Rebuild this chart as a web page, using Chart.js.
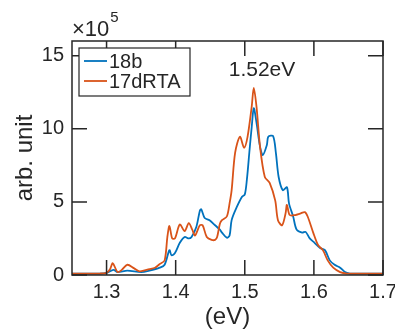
<!DOCTYPE html>
<html>
<head>
<meta charset="utf-8">
<script src="https://cdn.jsdelivr.net/npm/chart.js@4.4.0/dist/chart.umd.min.js"></script>
<style>
  html, body { margin: 0; padding: 0; background: #fff; }
  #wrap { width: 395px; height: 329px; position: relative; }
</style>
</head>
<body>
<div id="wrap"><canvas id="pl"></canvas></div>
<script>
  // photon energy (eV) and intensity (x1e5, arb. unit)
  const seriesNames = ["18b", "17dRTA"];

  const eV_18b = [1.25, 1.29, 1.30, 1.31, 1.316, 1.33, 1.35, 1.362, 1.377, 1.384, 1.391, 1.394,
    1.399, 1.406, 1.413, 1.419, 1.423, 1.430, 1.435, 1.437, 1.442, 1.449, 1.457, 1.464, 1.467,
    1.474, 1.478, 1.481, 1.488, 1.496, 1.500, 1.503, 1.507, 1.510, 1.513, 1.517, 1.522, 1.526,
    1.532, 1.534, 1.541, 1.545, 1.549, 1.555, 1.561, 1.564, 1.570, 1.575, 1.583, 1.588, 1.594,
    1.601, 1.609, 1.616, 1.623, 1.630, 1.638, 1.645, 1.652, 1.66, 1.70];
  const int_18b = [0.1, 0.1, 0.15, 0.35, 0.2, 0.3, 0.2, 0.3, 0.5, 0.7, 1.7, 1.35,
    1.5, 2.2, 2.6, 2.5, 2.6, 3.3, 4.4, 4.5, 3.9, 3.75, 3.4, 3.1, 2.9,
    2.55, 2.7, 3.75, 4.6, 5.35, 5.5, 6.5, 8.6, 10.1, 11.4, 10.4, 8.8, 8.2,
    8.9, 9.45, 9.5, 8.35, 6.7, 5.8, 6.0, 4.9, 4.0, 3.1, 2.9, 2.95, 2.5,
    2.2, 1.85, 1.7, 1.0, 0.7, 0.5, 0.2, 0.1, 0.1, 0.1];

  const eV_17d = [1.25, 1.29, 1.30, 1.305, 1.309, 1.316, 1.322, 1.330, 1.340, 1.348, 1.362,
    1.370, 1.377, 1.384, 1.388, 1.391, 1.395, 1.399, 1.406, 1.413, 1.419, 1.424, 1.428, 1.435,
    1.439, 1.445, 1.452, 1.457, 1.460, 1.464, 1.467, 1.474, 1.478, 1.481, 1.486, 1.493, 1.499,
    1.504, 1.510, 1.513, 1.517, 1.522, 1.529, 1.536, 1.544, 1.548, 1.554, 1.559, 1.561, 1.565,
    1.573, 1.580, 1.587, 1.591, 1.599, 1.606, 1.613, 1.620, 1.628, 1.638, 1.648, 1.66, 1.70];
  const int_17d = [0.1, 0.1, 0.15, 0.4, 0.8, 0.2, 0.35, 0.7, 0.45, 0.25, 0.4,
    0.5, 0.75, 1.0, 2.6, 3.35, 2.5, 2.5, 3.45, 3.0, 3.55, 3.1, 2.7, 3.4,
    3.4, 2.6, 2.4, 2.4, 2.6, 3.5, 3.75, 4.0, 4.9, 5.8, 8.35, 9.45, 8.7,
    9.45, 11.5, 12.8, 11.5, 8.8, 6.7, 6.3, 5.1, 3.75, 3.4, 4.2, 4.8, 4.1,
    4.1, 4.2, 4.3, 4.0, 2.9, 2.05, 1.7, 1.0, 0.5, 0.2, 0.1, 0.1, 0.1];

  const xTicks = [1.3, 1.4, 1.5, 1.6, 1.7];
  const yTicks = [0, 5, 10, 15];
  const peakLabel = "1.52eV";

  const INK = "#262626";
  const FONT = "'Liberation Sans', Arial, sans-serif";

  function pts(xs, ys) {
    return xs.map((x, i) => ({ x: x, y: ys[i] }));
  }

  // box, inward ticks, legend and annotations
  const frame = {
    id: "frame",
    afterDatasetsDraw(chart) {
      const { ctx, chartArea: a, scales } = chart;
      const TL = 15;
      ctx.save();
      ctx.strokeStyle = INK;
      ctx.lineWidth = 1.5;
      ctx.strokeRect(a.left, a.top, a.right - a.left, a.bottom - a.top);
      ctx.beginPath();
      xTicks.forEach((v) => {
        const px = scales.x.getPixelForValue(v);
        ctx.moveTo(px, a.bottom); ctx.lineTo(px, a.bottom - TL);
        ctx.moveTo(px, a.top); ctx.lineTo(px, a.top + TL);
      });
      yTicks.forEach((v) => {
        const py = scales.y.getPixelForValue(v);
        ctx.moveTo(a.left, py); ctx.lineTo(a.left + TL, py);
        ctx.moveTo(a.right, py); ctx.lineTo(a.right - TL, py);
      });
      ctx.stroke();

      // legend
      const lx = 79, ly = 48, lw = 111, lh = 48;
      ctx.fillStyle = "#fff";
      ctx.fillRect(lx, ly, lw, lh);
      ctx.lineWidth = 1.2;
      ctx.strokeRect(lx, ly, lw, lh);
      [0, 1].forEach((r) => {
        const ds = chart.data.datasets[r];
        const yy = 61 + r * 20;
        ctx.strokeStyle = ds.borderColor;
        ctx.lineWidth = 1.8;
        ctx.beginPath();
        ctx.moveTo(84, yy); ctx.lineTo(107, yy);
        ctx.stroke();
        ctx.fillStyle = INK;
        ctx.font = "20px " + FONT;
        ctx.textAlign = "left";
        ctx.textBaseline = "middle";
        ctx.fillText(ds.label, 109, yy + 1);
      });

      // exponent
      ctx.fillStyle = INK;
      ctx.textAlign = "left";
      ctx.textBaseline = "middle";
      ctx.font = "22px " + FONT;
      ctx.fillText("\u00d710", 72, 30);
      const w = ctx.measureText("\u00d710").width;
      ctx.font = "15px " + FONT;
      ctx.fillText("5", 72 + w + 1, 18);

      // peak label
      ctx.font = "21px " + FONT;
      ctx.textAlign = "center";
      ctx.fillText(peakLabel, 262, 70);
      ctx.restore();
    }
  };

  new Chart(document.getElementById("pl"), {
    type: "line",
    data: {
      datasets: [
        {
          label: seriesNames[0],
          data: pts(eV_18b, int_18b),
          borderColor: "#0072BD",
          borderWidth: 1.8,
          pointRadius: 0,
          tension: 0.3,
          order: 1
        },
        {
          label: seriesNames[1],
          data: pts(eV_17d, int_17d),
          borderColor: "#D95319",
          borderWidth: 1.8,
          pointRadius: 0,
          tension: 0.3,
          order: 0
        }
      ]
    },
    options: {
      responsive: true,
      maintainAspectRatio: false,
      animation: false,
      layout: { padding: { left: 0, right: 12, top: 41, bottom: 0 } },
      plugins: { legend: { display: false }, tooltip: { enabled: false } },
      scales: {
        x: {
          type: "linear",
          min: 1.25,
          max: 1.7,
          grid: { display: false },
          border: { display: false },
          afterBuildTicks: (s) => { s.ticks = xTicks.map((v) => ({ value: v })); },
          afterFit: (s) => { s.height = 54; s.paddingLeft = 0; s.paddingRight = 0; },
          ticks: {
            padding: -3,
            maxRotation: 0,
            color: INK,
            font: { family: FONT, size: 20 },
            callback: (v) => v.toFixed(1)
          },
          title: {
            display: true,
            text: "(eV)",
            color: INK,
            font: { family: FONT, size: 24, lineHeight: 1 },
            padding: { top: 0, bottom: 0 }
          }
        },
        y: {
          min: 0,
          max: 16,
          grid: { display: false },
          border: { display: false },
          afterBuildTicks: (s) => { s.ticks = yTicks.map((v) => ({ value: v })); },
          afterFit: (s) => { s.width = 72; s.paddingTop = 0; s.paddingBottom = 0; },
          ticks: {
            padding: 0,
            color: INK,
            font: { family: FONT, size: 20 }
          },
          title: {
            display: true,
            text: "arb. unit",
            color: INK,
            font: { family: FONT, size: 24, lineHeight: 1 },
            padding: { top: 13, bottom: 0 }
          }
        }
      }
    },
    plugins: [frame]
  });
</script>
</body>
</html>
